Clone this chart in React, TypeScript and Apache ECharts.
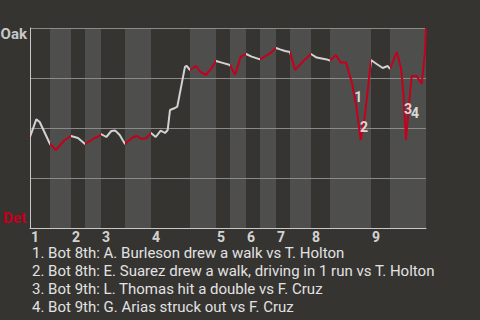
import React, { useEffect, useRef } from "react";
import * as echarts from "echarts";

// Game progress (plate-appearance timeline units) and Oak win probability
const progress = [
  0, 6.3, 9.7, 20,
  25.7, 34.7, 41,
  48, 55,
  64.7, 69.7, 71,
  76.3, 81.3, 85.3, 89.7, 95,
  101.7, 106.7, 111.7, 116.7, 121,
  125.7, 130.7, 135, 137.7, 140, 145, 147.3, 155, 156.7, 160,
  166, 170.5, 176, 181.7, 186,
  191.7, 200,
  205, 210.7, 216,
  221.7, 230,
  240, 246,
  250, 255, 260,
  265, 275, 281,
  286.7, 296.7, 300,
  306, 310.7, 316, 321.7, 326, 330.7, 335, 341,
  346.7, 352.7, 357.7, 360,
  366.7, 371, 373.3, 376, 378.3, 381.7, 386.7, 391.7, 395, 396,
];
const oakWinProb = [
  0.455, 0.543, 0.53, 0.42,
  0.39, 0.44, 0.46,
  0.45, 0.42,
  0.45, 0.46, 0.47,
  0.455, 0.485, 0.487, 0.465, 0.42,
  0.45, 0.46, 0.445, 0.45, 0.475,
  0.455, 0.487, 0.475, 0.49, 0.59, 0.6, 0.607, 0.807, 0.81, 0.79,
  0.81, 0.78, 0.765, 0.8, 0.835,
  0.827, 0.815,
  0.765, 0.857, 0.87,
  0.857, 0.843,
  0.873, 0.9,
  0.893, 0.885, 0.88,
  0.79, 0.843, 0.87,
  0.852, 0.843, 0.837,
  0.865, 0.827, 0.827, 0.73, 0.62, 0.44, 0.565, 0.84,
  0.82, 0.8, 0.81, 0.795,
  0.88, 0.8, 0.68, 0.44, 0.58, 0.76, 0.76, 0.72, 0.88, 1.0,
];

// Half-inning boundaries (top halves = Oak batting, bottom halves = Det batting)
const halfInningBounds = [0, 20, 41, 55, 71, 95, 121, 160, 186, 200, 216, 230, 246, 260, 281, 300, 341, 360, 396];
const inningLabels = ["1", "2", "3", "4", "5", "6", "7", "8", "9"];

// Key play annotations
const annotationIds = ["1", "2", "3", "4"];
const annotationX = [328.3, 334, 378, 385];
const annotationY = [0.655, 0.507, 0.595, 0.577];
const keyPlays = [
  "Bot 8th: A. Burleson drew a walk vs T. Holton",
  "Bot 8th: E. Suarez drew a walk, driving in 1 run vs T. Holton",
  "Bot 9th: L. Thomas hit a double vs F. Cruz",
  "Bot 9th: G. Arias struck out vs F. Cruz",
];

const BG = "#353431";
const BAND = "#4e4e4c";
const WHITE_LINE = "#d2d2d2";
const RED = "#c4001c";
const FONT = "Roboto";

export default function App() {
  const ref = useRef<HTMLDivElement>(null);
  useEffect(() => {
    if (!ref.current) return;
    const chart = echarts.init(ref.current, undefined, { renderer: "svg" });

    const lineData = progress.map((x, i) => [x, oakWinProb[i]]);
    const bands: number[][] = [];
    const pieces: any[] = [];
    for (let i = 0; i < halfInningBounds.length - 1; i++) {
      const a = halfInningBounds[i];
      const b = halfInningBounds[i + 1];
      const top = i % 2 === 0;
      pieces.push({ gte: a, lt: i === halfInningBounds.length - 2 ? b + 1 : b, color: top ? WHITE_LINE : RED });
      if (!top) bands.push([a, b]);
    }
    const inningStarts = inningLabels.map((lab, i) => [halfInningBounds[i * 2], 0, lab]);
    const annData = annotationIds.map((id, i) => [annotationX[i], annotationY[i], id]);

    chart.setOption({
      animation: false,
      backgroundColor: BG,
      textStyle: { fontFamily: FONT },
      grid: { left: 30, right: 54, top: 28, bottom: 92 },
      xAxis: {
        type: "value",
        min: 0,
        max: 396,
        z: 5,
        axisLine: { show: true, lineStyle: { color: "#c8c8c8", width: 1 } },
        axisTick: { show: false },
        axisLabel: { show: false },
        splitLine: { show: false },
      },
      yAxis: {
        type: "value",
        min: 0,
        max: 1,
        interval: 0.25,
        z: 5,
        axisLine: { show: true, lineStyle: { color: "#c8c8c8", width: 1 } },
        axisTick: { show: false },
        axisLabel: { show: false },
        splitLine: { show: true, lineStyle: { color: "#8a8a88", width: 1 } },
      },
      visualMap: {
        show: false,
        type: "piecewise",
        dimension: 0,
        seriesIndex: 1,
        pieces,
        outOfRange: { color: RED },
      },
      series: [
        {
          type: "custom",
          z: 1,
          silent: true,
          data: bands,
          renderItem: (params: any, api: any) => {
            const p1 = api.coord([api.value(0), 1]);
            const p2 = api.coord([api.value(1), 0]);
            return {
              type: "rect",
              shape: { x: p1[0], y: p1[1], width: p2[0] - p1[0], height: p2[1] - p1[1] },
              style: { fill: BAND },
            };
          },
        },
        {
          type: "line",
          z: 10,
          data: lineData,
          showSymbol: false,
          symbol: "none",
          lineStyle: { width: 2 },
          silent: true,
        },
        {
          type: "scatter",
          z: 12,
          clip: false,
          symbolSize: 0,
          silent: true,
          data: inningStarts,
          label: {
            show: true,
            position: [1, 2],
            align: "left",
            verticalAlign: "top",
            formatter: (p: any) => p.data[2],
            color: "#ffffff",
            fontWeight: "bold",
            fontSize: 14,
            fontFamily: FONT,
          },
        },
        {
          type: "scatter",
          z: 12,
          clip: false,
          symbolSize: 0,
          silent: true,
          data: annData,
          label: {
            show: true,
            position: "inside",
            align: "center",
            verticalAlign: "middle",
            formatter: (p: any) => p.data[2],
            color: "#ffffff",
            fontWeight: "bold",
            fontSize: 14,
            fontFamily: FONT,
          },
        },
      ],
      graphic: [
        {
          type: "text",
          right: 480 - 27,
          top: 26,
          style: { text: "Oak", fill: "#c8c8c8", font: `bold 15px ${FONT}` },
        },
        {
          type: "text",
          right: 480 - 26,
          top: 210,
          style: { text: "Det", fill: RED, font: `bold 15px ${FONT}` },
        },
        ...keyPlays.map((t, i) => ({
          type: "text",
          x: 32,
          y: 253 + i * 18,
          style: {
            text: `${i + 1}. ${t}`,
            fill: "#e2e2e2",
            font: `15px ${FONT}`,
            verticalAlign: "middle",
          },
        })),
      ],
    });
    return () => chart.dispose();
  }, []);
  return (
    <div
      ref={ref}
      style={{ position: "absolute", left: 0, top: 0, width: 480, height: 320 }}
    />
  );
}
